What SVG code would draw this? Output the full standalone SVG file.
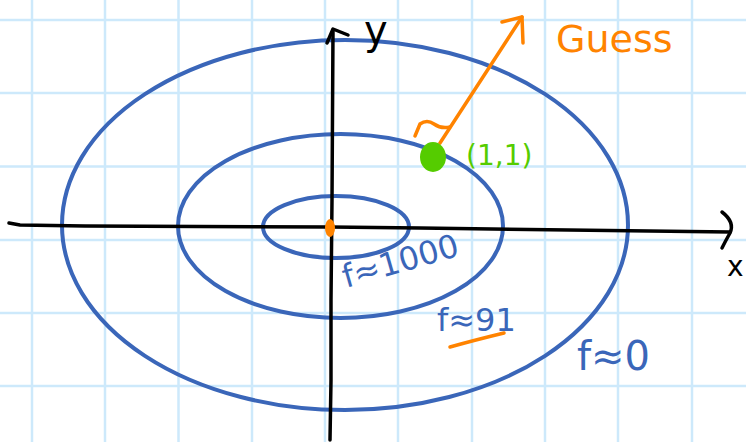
<svg xmlns="http://www.w3.org/2000/svg" width="746" height="442" viewBox="0 0 746 442">
<style>
.grid line{stroke:#cde9fb;stroke-width:2.5}
.ell{fill:none;stroke:#3a66b9;stroke-width:4}
.axis{fill:none;stroke:#000;stroke-width:3.5;stroke-linecap:round;stroke-linejoin:round}
.or{fill:none;stroke:#ff8300;stroke-width:3.5;stroke-linecap:round;stroke-linejoin:round}
.t{font-family:"DejaVu Sans","Liberation Sans",sans-serif}
.blue{fill:#3a66b9}
</style>
<rect width="746" height="442" fill="#fff"/>
<g class="grid">
<line x1="32" y1="0" x2="32" y2="442"/><line x1="105" y1="0" x2="105" y2="442"/><line x1="178.5" y1="0" x2="178.5" y2="442"/><line x1="252" y1="0" x2="252" y2="442"/><line x1="325" y1="0" x2="325" y2="442"/><line x1="398" y1="0" x2="398" y2="442"/><line x1="472" y1="0" x2="472" y2="442"/><line x1="545" y1="0" x2="545" y2="442"/><line x1="618" y1="0" x2="618" y2="442"/><line x1="692" y1="0" x2="692" y2="442"/>
<line x1="0" y1="20" x2="746" y2="20"/><line x1="0" y1="93" x2="746" y2="93"/><line x1="0" y1="166.5" x2="746" y2="166.5"/><line x1="0" y1="240" x2="746" y2="240"/><line x1="0" y1="313" x2="746" y2="313"/><line x1="0" y1="386" x2="746" y2="386"/>
</g>
<g id="contours">
<ellipse id="outer" class="ell" cx="345" cy="225" rx="283" ry="185"/>
<ellipse id="middle" class="ell" cx="340.5" cy="226" rx="162.5" ry="92"/>
<ellipse id="inner" class="ell" cx="336" cy="227" rx="73" ry="31"/>
</g>
<g id="connectors">
<path class="axis" d="M9,223 L20,225 L85,226 L330,227 L420,228 L730,232"/>
<path class="axis" d="M722,212 Q735,222 730,233 Q726,240 722,248"/>
<path class="axis" d="M330,440 L331,380 L331,300 L332,200 L333,30"/>
<path class="axis" d="M327,43 L333,29 L348,35"/>
<path class="or" d="M440,143 L522,17"/>
<path class="or" d="M502,22 L522,17 L523,43"/>
<path class="or" d="M415,136 L420,124 Q427,119 434,124 Q441,129 450,127"/>
</g>
<g id="origin"><ellipse cx="330" cy="228" rx="5" ry="9" fill="#ff8300"/></g>
<g id="point"><ellipse cx="433" cy="157" rx="13" ry="15" fill="#55cc00"/>
<text class="t" x="466" y="165" font-size="28" fill="#55cc00">(1,1)</text></g>
<g id="labels">
<text class="t" x="364" y="44" font-size="40">y</text>
<text class="t" x="727" y="276" font-size="28">x</text>
<text class="t" x="556" y="52" font-size="38" fill="#ff8300">Guess</text>
<text class="t blue" x="0" y="0" font-size="32" transform="translate(346,288) rotate(-16)">f≈1000</text>
<text class="t blue" x="437" y="331" font-size="32">f≈91</text>
<path class="or" d="M450,347 Q475,340 504,333"/>
<text class="t blue" x="577" y="370" font-size="40">f≈0</text>
</g>
</svg>
